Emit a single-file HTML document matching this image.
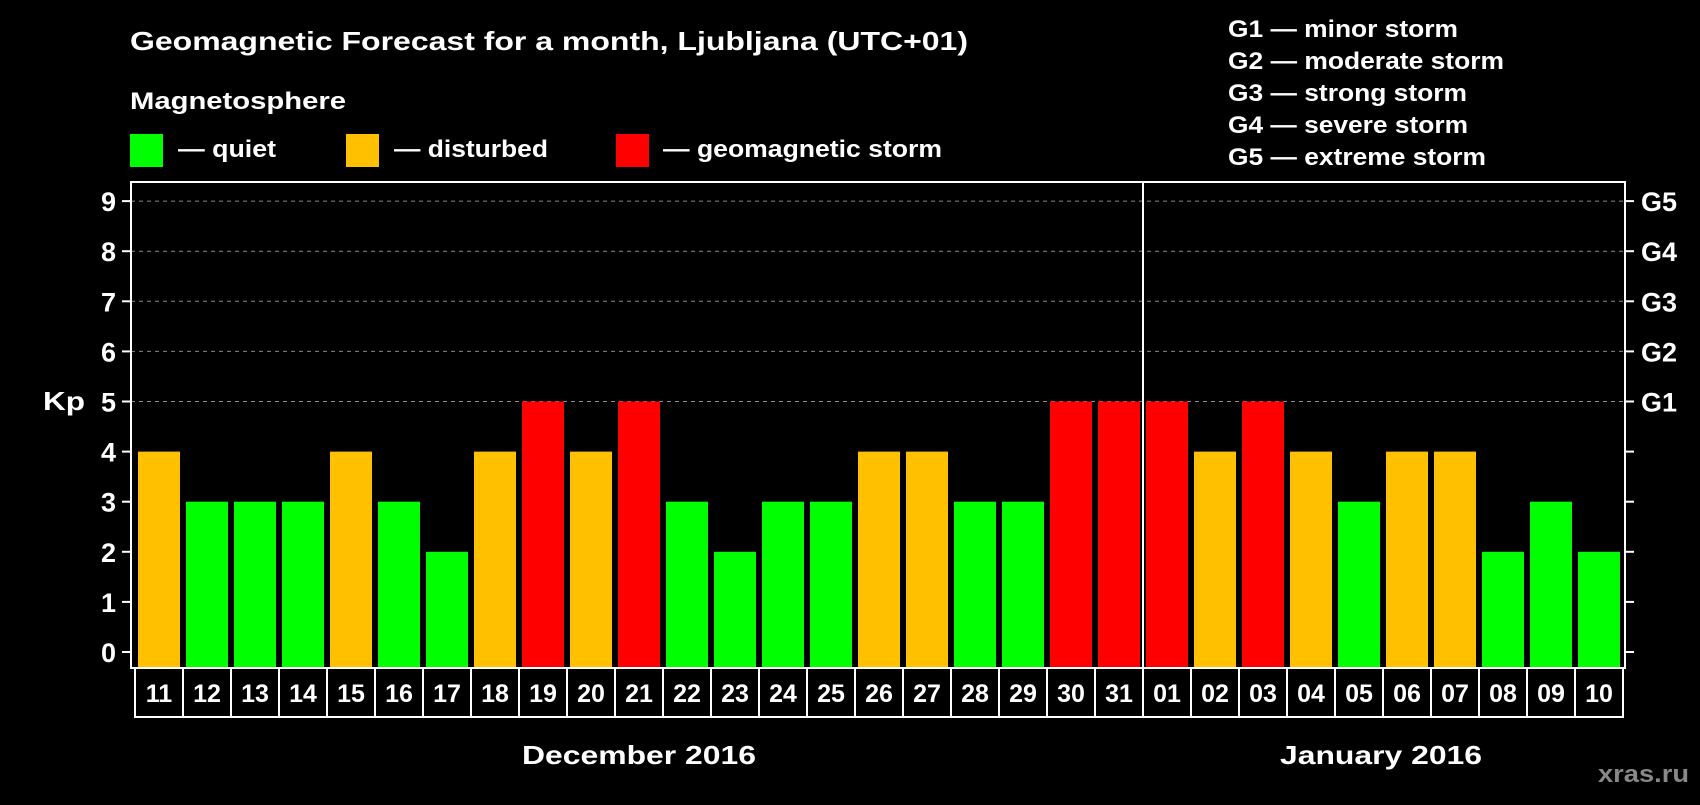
<!DOCTYPE html>
<html><head><meta charset="utf-8"><style>
html,body{margin:0;padding:0;background:#000;}
body{width:1700px;height:800px;overflow:hidden;}
svg text{font-family:"Liberation Sans",Arial,sans-serif;font-weight:bold;}
</style></head><body>
<svg id="chart" width="1700" height="800" xmlns="http://www.w3.org/2000/svg">
<text x="130" y="50" font-size="26" fill="#fff" textLength="838" lengthAdjust="spacingAndGlyphs">Geomagnetic Forecast for a month, Ljubljana (UTC+01)</text>
<text x="130" y="109" font-size="24" fill="#fff" textLength="216" lengthAdjust="spacingAndGlyphs">Magnetosphere</text>
<g><rect x="130" y="134" width="33" height="33" fill="#00ff00"/><text x="178" y="157" font-size="24" fill="#fff" textLength="98" lengthAdjust="spacingAndGlyphs">— quiet</text></g>
<g><rect x="346" y="134" width="33" height="33" fill="#ffc000"/><text x="394" y="157" font-size="24" fill="#fff" textLength="154" lengthAdjust="spacingAndGlyphs">— disturbed</text></g>
<g><rect x="616" y="134" width="33" height="33" fill="#ff0000"/><text x="663" y="157" font-size="24" fill="#fff" textLength="279" lengthAdjust="spacingAndGlyphs">— geomagnetic storm</text></g>
<g font-size="24" fill="#fff">
<text x="1228" y="37" textLength="230" lengthAdjust="spacingAndGlyphs">G1 — minor storm</text>
<text x="1228" y="69" textLength="276" lengthAdjust="spacingAndGlyphs">G2 — moderate storm</text>
<text x="1228" y="101" textLength="239" lengthAdjust="spacingAndGlyphs">G3 — strong storm</text>
<text x="1228" y="133" textLength="240" lengthAdjust="spacingAndGlyphs">G4 — severe storm</text>
<text x="1228" y="165" textLength="258" lengthAdjust="spacingAndGlyphs">G5 — extreme storm</text>
</g>
<text x="43" y="410" font-size="26" fill="#fff" textLength="42" lengthAdjust="spacingAndGlyphs">Kp</text>
<g id="plot"></g>
<text x="522" y="764" font-size="26" fill="#fff" textLength="234" lengthAdjust="spacingAndGlyphs">December 2016</text>
<text x="1280" y="764" font-size="26" fill="#fff" textLength="202" lengthAdjust="spacingAndGlyphs">January 2016</text>
<text x="1598" y="782" font-size="24" fill="#888" textLength="91" lengthAdjust="spacingAndGlyphs">xras.ru</text>
</svg>
<script>
const days = ["11","12","13","14","15","16","17","18","19","20","21","22","23","24","25","26","27","28","29","30","31","01","02","03","04","05","06","07","08","09","10"];
const kp = [4,3,3,3,4,3,2,4,5,4,5,3,2,3,3,4,4,3,3,5,5,5,4,5,4,3,4,4,2,3,2];
const yTicks = [0,1,2,3,4,5,6,7,8,9];
const gLabels = ["","","","","","G1","G2","G3","G4","G5"];
const monthBreakIndex = 21;

const NS="http://www.w3.org/2000/svg";
const g=document.getElementById('plot');
const L=131,R=1625,T=182,B=668,slotX0=135,pitch=48,barW=42;
const y=v=>652-v*50.1;
const x=i=>slotX0+i*pitch;
function mk(t,a){const e=document.createElementNS(NS,t);for(const k in a)e.setAttribute(k,a[k]);g.appendChild(e);return e;}
yTicks.forEach((v,i)=>{
  if(v>=5){const l=mk('line',{x1:L,x2:R,y1:y(v),y2:y(v),stroke:'#888','stroke-dasharray':'4,4','stroke-width':1});
  
  }
  mk('line',{x1:122,x2:L,y1:y(v),y2:y(v),stroke:'#fff','stroke-width':2});
  mk('line',{x1:R,x2:1634,y1:y(v),y2:y(v),stroke:'#fff','stroke-width':2});
  const t=mk('text',{x:116,y:y(v)+10,'font-size':27,fill:'#fff','text-anchor':'end'});t.textContent=v;
  
  
  if(gLabels[i]){const gt=mk('text',{x:1641,y:y(v)+10,'font-size':27,fill:'#fff'});gt.textContent=gLabels[i];
  
  }
});
kp.forEach((v,i)=>{
  const c=v>=5?'#ff0000':(v>=4?'#ffc000':'#00ff00');
  const b=mk('rect',{x:x(i)+3,y:y(v),width:barW,height:B-y(v),fill:c});
  
  
  const bx=mk('rect',{x:x(i),y:B,width:pitch,height:49,fill:'none',stroke:'#fff','stroke-width':2});
  
  
  const t=mk('text',{x:x(i)+pitch/2,y:B+34,'font-size':25,fill:'#fff','text-anchor':'middle'});t.textContent=days[i];
  
  
});
const fr=mk('rect',{x:L,y:T,width:R-L,height:B-T,fill:'none',stroke:'#fff','stroke-width':2});


const sep=mk('line',{x1:x(monthBreakIndex),x2:x(monthBreakIndex),y1:T,y2:B,stroke:'#fff','stroke-width':2});


</script>
</body></html>
